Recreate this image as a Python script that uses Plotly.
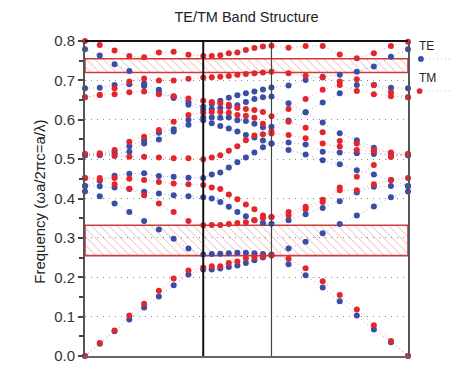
import math
import plotly.graph_objects as go

# ---- data -------------------------------------------------------------
# k-path of a triangular lattice: Gamma -> M -> K -> Gamma, 8 steps per segment
segment_lengths = [1 / math.sqrt(3), 1 / 3, 2 / 3]
steps_per_segment = 8

te_bands = [
    [0, 0.031, 0.063, 0.093, 0.123, 0.151, 0.180, 0.207, 0.220, 0.220, 0.222, 0.226, 0.230, 0.236, 0.243, 0.250, 0.257, 0.233, 0.205, 0.174, 0.139, 0.103, 0.067, 0.035, 0.0],
    [0.418, 0.406, 0.387, 0.366, 0.343, 0.321, 0.298, 0.273, 0.258, 0.259, 0.260, 0.261, 0.262, 0.262, 0.261, 0.259, 0.257, 0.273, 0.290, 0.312, 0.335, 0.357, 0.380, 0.403, 0.418],
    [0.432, 0.431, 0.428, 0.424, 0.417, 0.413, 0.408, 0.406, 0.403, 0.400, 0.391, 0.379, 0.366, 0.355, 0.345, 0.338, 0.336, 0.345, 0.360, 0.376, 0.393, 0.415, 0.430, 0.432, 0.432],
    [0.432, 0.445, 0.458, 0.463, 0.464, 0.457, 0.455, 0.453, 0.452, 0.461, 0.466, 0.479, 0.492, 0.504, 0.517, 0.530, 0.540, 0.523, 0.512, 0.497, 0.487, 0.472, 0.461, 0.447, 0.432],
    [0.510, 0.510, 0.513, 0.519, 0.540, 0.550, 0.570, 0.587, 0.599, 0.591, 0.584, 0.578, 0.570, 0.561, 0.555, 0.547, 0.540, 0.542, 0.537, 0.519, 0.517, 0.515, 0.513, 0.511, 0.510],
    [0.510, 0.512, 0.519, 0.533, 0.548, 0.567, 0.576, 0.600, 0.606, 0.606, 0.605, 0.606, 0.599, 0.597, 0.590, 0.581, 0.582, 0.598, 0.619, 0.644, 0.667, 0.688, 0.688, 0.681, 0.680],
    [0.680, 0.681, 0.688, 0.690, 0.686, 0.668, 0.655, 0.638, 0.625, 0.627, 0.630, 0.633, 0.637, 0.645, 0.653, 0.657, 0.659, 0.642, 0.619, 0.593, 0.566, 0.548, 0.529, 0.515, 0.510],
    [0.779, 0.763, 0.741, 0.724, 0.692, 0.676, 0.659, 0.645, 0.633, 0.640, 0.648, 0.656, 0.662, 0.667, 0.672, 0.677, 0.682, 0.687, 0.701, 0.709, 0.714, 0.722, 0.735, 0.760, 0.779],
]

tm_bands = [
    [0, 0.033, 0.065, 0.103, 0.133, 0.166, 0.197, 0.217, 0.225, 0.228, 0.228, 0.236, 0.240, 0.248, 0.251, 0.253, 0.255, 0.247, 0.223, 0.190, 0.155, 0.118, 0.078, 0.038, 0.0],
    [0.452, 0.447, 0.436, 0.425, 0.408, 0.387, 0.366, 0.343, 0.332, 0.333, 0.333, 0.335, 0.338, 0.340, 0.345, 0.350, 0.353, 0.357, 0.373, 0.391, 0.421, 0.421, 0.436, 0.447, 0.452],
    [0.452, 0.452, 0.452, 0.450, 0.447, 0.442, 0.438, 0.436, 0.434, 0.428, 0.424, 0.410, 0.398, 0.385, 0.373, 0.357, 0.353, 0.366, 0.379, 0.397, 0.428, 0.455, 0.485, 0.506, 0.513],
    [0.513, 0.512, 0.508, 0.506, 0.506, 0.504, 0.502, 0.502, 0.500, 0.504, 0.510, 0.521, 0.533, 0.548, 0.560, 0.563, 0.565, 0.561, 0.553, 0.540, 0.532, 0.523, 0.520, 0.506, 0.513],
    [0.513, 0.515, 0.523, 0.544, 0.557, 0.574, 0.595, 0.612, 0.618, 0.620, 0.620, 0.618, 0.612, 0.610, 0.605, 0.590, 0.570, 0.595, 0.580, 0.568, 0.546, 0.540, 0.523, 0.517, 0.513],
    [0.657, 0.663, 0.665, 0.670, 0.672, 0.665, 0.660, 0.654, 0.648, 0.645, 0.642, 0.638, 0.630, 0.627, 0.625, 0.620, 0.609, 0.627, 0.653, 0.676, 0.688, 0.673, 0.665, 0.660, 0.657],
    [0.657, 0.663, 0.680, 0.697, 0.705, 0.700, 0.700, 0.704, 0.707, 0.708, 0.709, 0.711, 0.714, 0.716, 0.718, 0.720, 0.722, 0.718, 0.712, 0.707, 0.697, 0.703, 0.688, 0.670, 0.657],
    [0.800, 0.790, 0.776, 0.762, 0.759, 0.771, 0.773, 0.765, 0.762, 0.762, 0.764, 0.769, 0.771, 0.777, 0.782, 0.786, 0.788, 0.783, 0.787, 0.787, 0.766, 0.756, 0.769, 0.787, 0.798],
]

band_gaps = [(0.255, 0.332), (0.720, 0.755)]
y_ticks = [0.0, 0.1, 0.2, 0.3, 0.4, 0.5, 0.6, 0.7, 0.8]

# ---- k positions --------------------------------------------------------
kpath = [0.0]
start = 0.0
for seg in segment_lengths:
    for i in range(1, steps_per_segment + 1):
        kpath.append(start + seg * i / steps_per_segment)
    start += seg
k_M = segment_lengths[0]
k_K = segment_lengths[0] + segment_lengths[1]
k_end = sum(segment_lengths)

RED = "#e2262e"
BLUE = "#3a4ea6"

fig = go.Figure()

# hatched band gaps
for lo, hi in band_gaps:
    fig.add_trace(go.Scatter(
        x=[0, k_end, k_end, 0, 0], y=[lo, lo, hi, hi, lo],
        mode="lines", fill="toself",
        fillcolor="rgba(255,255,255,0)",
        fillpattern=dict(shape="\\", fgcolor="rgba(195,60,60,0.9)",
                         bgcolor="rgba(255,255,255,0)", size=6, solidity=0.14),
        line=dict(color="#d23a3a", width=1.6),
        hoverinfo="skip", showlegend=False))

for band in te_bands:
    fig.add_trace(go.Scatter(
        x=kpath, y=band, mode="lines+markers",
        line=dict(color="rgba(90,110,190,0.55)", width=1, dash="1px,3px"),
        marker=dict(color=BLUE, size=6),
        cliponaxis=False, showlegend=False, name="TE"))

for band in tm_bands:
    fig.add_trace(go.Scatter(
        x=kpath, y=band, mode="lines+markers",
        line=dict(color="rgba(230,90,90,0.55)", width=1, dash="1px,3px"),
        marker=dict(color=RED, size=6),
        cliponaxis=False, showlegend=False, name="TM"))

shapes = [
    dict(type="line", xref="x", yref="paper", x0=k_M, x1=k_M, y0=0, y1=1,
         line=dict(color="#111", width=2)),
    dict(type="line", xref="x", yref="paper", x0=k_K, x1=k_K, y0=0, y1=1,
         line=dict(color="#444", width=1.2)),
    dict(type="line", xref="paper", yref="paper", x0=0, x1=1, y0=1, y1=1,
         line=dict(color="#111", width=2)),
    # legend symbols
    dict(type="line", xref="paper", yref="paper", x0=1.04, x1=1.13, y0=0.943, y1=0.943,
         line=dict(color="rgba(90,110,190,0.5)", width=1, dash="1px,3px")),
    dict(type="circle", xref="paper", yref="paper", x0=1.031, x1=1.049, y0=0.934, y1=0.952,
         fillcolor=BLUE, line=dict(color=BLUE, width=0)),
    dict(type="line", xref="paper", yref="paper", x0=1.04, x1=1.13, y0=0.841, y1=0.841,
         line=dict(color="rgba(230,90,90,0.5)", width=1, dash="1px,3px")),
    dict(type="circle", xref="paper", yref="paper", x0=1.027, x1=1.045, y0=0.832, y1=0.850,
         fillcolor=RED, line=dict(color=RED, width=0)),
]

annotations = [
    dict(text="TE", xref="paper", yref="paper", x=1.027, y=0.984, xanchor="left",
         yanchor="middle", showarrow=False, font=dict(size=12, color="#222")),
    dict(text="TM", xref="paper", yref="paper", x=1.027, y=0.882, xanchor="left",
         yanchor="middle", showarrow=False, font=dict(size=12, color="#222")),
    dict(text="Frequency (ωa/2πc=a/λ)", xref="paper", yref="paper", x=-0.139, y=0.49,
         textangle=-90, showarrow=False, xanchor="center", yanchor="middle",
         font=dict(size=15, color="#222")),
]

# the page adds an 8 px body margin, so the margins are reduced by 8 px
fig.update_layout(
    width=465, height=378,
    margin=dict(l=77, r=65, t=33, b=30),
    paper_bgcolor="white", plot_bgcolor="white",
    font=dict(family="Liberation Sans, Arial, sans-serif", color="#222"),
    title=dict(text="TE/TM Band Structure", x=0.5, xref="paper", xanchor="center",
               y=1 - 9 / 378, yref="container", yanchor="middle",
               font=dict(size=14.5, color="#222")),
    shapes=shapes, annotations=annotations, showlegend=False,
)
fig.update_xaxes(range=[0, k_end], showgrid=False, zeroline=False, showticklabels=False,
                 ticks="", showline=True, linecolor="#666", linewidth=2)
fig.update_yaxes(range=[0, 0.8], tickvals=y_ticks, ticktext=[f"{v:.1f}" for v in y_ticks],
                 ticks="outside", ticklen=5, tickcolor="#444", tickwidth=1.5,
                 tickfont=dict(size=15, color="#333"),
                 minor=dict(dtick=0.05, tick0=0, ticks="outside", ticklen=4, tickcolor="#444",
                            showgrid=False),
                 showgrid=True, gridcolor="#888", griddash="1px,5px", gridwidth=1,
                 zeroline=False, showline=True, linecolor="#555", linewidth=2, mirror=True)

fig.write_html("out.html")
